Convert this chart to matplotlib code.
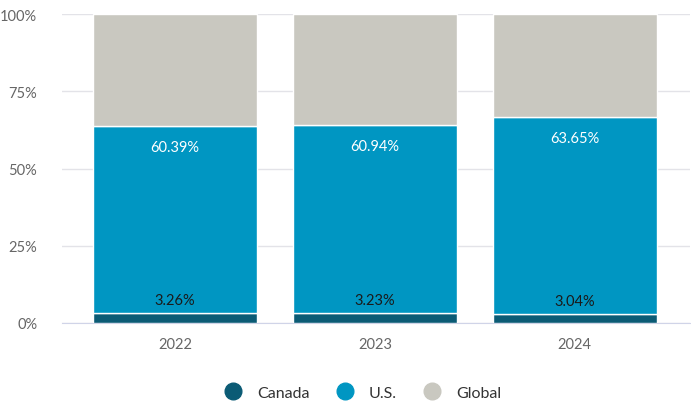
import matplotlib
matplotlib.use('Agg')
import matplotlib.pyplot as plt
from matplotlib.lines import Line2D
from matplotlib.ticker import FuncFormatter

plt.rcParams['font.family'] = ['Lato', 'DejaVu Sans']

years = ['2022', '2023', '2024']
canada = [3.26, 3.23, 3.04]
us = [60.39, 60.94, 63.65]
global_ = [36.35, 35.83, 33.31]

c_canada = '#0b5b75'
c_us = '#0096c2'
c_global = '#c9c8c0'

fig = plt.figure(figsize=(6.91, 4.06), dpi=100)
ax = fig.add_axes([0.09, 0.202, 0.908, 0.761])

x = range(len(years))
w = 0.82
ax.bar(x, canada, w, color=c_canada, edgecolor='white', linewidth=1, zorder=3)
ax.bar(x, us, w, bottom=canada, color=c_us, edgecolor='white', linewidth=1, zorder=3)
bottoms = [a + b for a, b in zip(canada, us)]
ax.bar(x, global_, w, bottom=bottoms, color=c_global, edgecolor='white', linewidth=1, zorder=3)

for i in x:
    ax.annotate(f'{canada[i]:.2f}%', (i, canada[i]), xytext=(0, 4), textcoords='offset points',
                ha='center', va='bottom', fontsize=10.5, color='#1a1a1a', zorder=4)
    ax.annotate(f'{us[i]:.2f}%', (i, bottoms[i]), xytext=(0, -10), textcoords='offset points',
                ha='center', va='top', fontsize=10.5, color='white', zorder=4)

ax.set_ylim(0, 100)
ax.set_xlim(-0.565, 2.575)
ax.set_yticks([0, 25, 50, 75, 100])
ax.yaxis.set_major_formatter(FuncFormatter(lambda v, p: f'{v:.0f}%'))
ax.set_xticks(list(x))
ax.set_xticklabels(years)
ax.grid(axis='y', color='#e3e3e8', linewidth=1, zorder=0)
for s in ['top', 'right', 'left']:
    ax.spines[s].set_visible(False)
ax.spines['bottom'].set_color('#d0d4e8')
ax.spines['bottom'].set_zorder(2)
ax.tick_params(axis='both', length=0, labelsize=10.5, colors='#666666')
ax.tick_params(axis='x', pad=10)
ax.tick_params(axis='y', pad=18)

handles = [Line2D([0], [0], marker='o', linestyle='', markersize=12, color=c)
           for c in (c_canada, c_us, c_global)]
fig.legend(handles, ['Canada', 'U.S.', 'Global'], loc='center', bbox_to_anchor=(0.52, 0.03),
           ncol=3, frameon=False, fontsize=11.5, handletextpad=0.5, columnspacing=1.2,
           labelcolor='#333333')

fig.savefig('out.png', dpi=100)
